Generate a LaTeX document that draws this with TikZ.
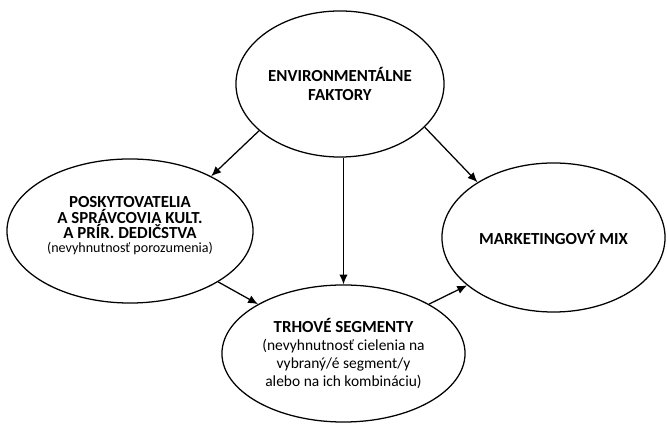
\documentclass[tikz,border=0pt]{standalone}
\usepackage{fontspec}
\setmainfont{Carlito}
\usetikzlibrary{arrows.meta,shapes.geometric}

\begin{document}
\begin{tikzpicture}[x=0.025cm,y=-0.025cm,->,>={Latex[length=7pt,width=6pt]},
		line width=0.9pt, every node/.style={align=center}]
		\tikzstyle{oval}=[ellipse,draw=black,inner sep=0pt,font=\bfseries\fontsize{12}{13}\selectfont]
		\newcommand*\subtxt[1]{{\normalfont #1}}
		\useasboundingbox (0,0) rectangle (667,425);

		\node[oval, minimum width=5.2cm,   minimum height=3.65cm]  (env) at (340,84)      {ENVIRONMENTÁLNE\\FAKTORY};
		\node[oval, minimum width=6.15cm,  minimum height=3.6cm]   (pos) at (130,231)     {POSKYTOVATELIA\\[-2pt]A SPRÁVCOVIA KULT.\\[-2pt]A PRÍR. DEDIČSTVA\\[-3pt]\fontsize{10}{11}\selectfont\subtxt{(nevyhnutnosť porozumenia)}\\[-4pt]};
		\node[oval, minimum width=6.075cm, minimum height=3.425cm] (trh) at (343.5,353.5) {TRHOVÉ SEGMENTY\\[0pt]\fontsize{11}{11}\selectfont\subtxt{(nevyhnutnosť cielenia na}\\[0pt]\fontsize{11}{11}\selectfont\subtxt{vybraný/é segment/y}\\[0pt]\fontsize{11}{11}\selectfont\subtxt{alebo na ich kombináciu)}};
		\node[oval, minimum width=5.575cm, minimum height=3.725cm] (mix) at (553.5,237.5) {MARKETINGOVÝ MIX};

		\draw (env.210) -- (pos.34);
		\draw (env.333) -- (mix.144);
		\draw (trh.north |- env.south) -- (trh.north);
		\draw (pos.330) -- (trh.150);
		\draw (trh.30) -- (mix.209);
\end{tikzpicture}
\end{document}
